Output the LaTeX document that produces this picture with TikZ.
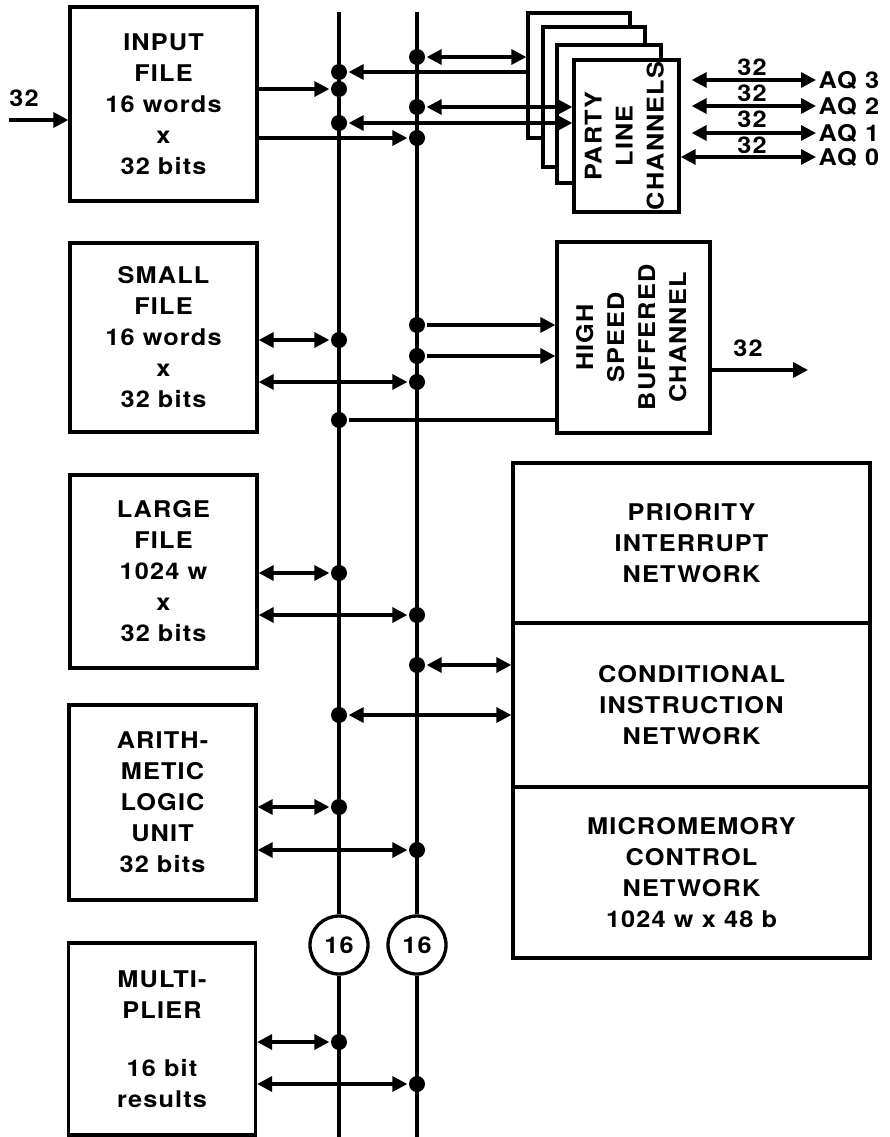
\documentclass[tikz,border=0pt]{standalone}
\usepackage{fontspec}
\setmainfont{TeX Gyre Heros}[FakeStretch=1.1, LetterSpace=5]
\usetikzlibrary{arrows.meta,calc}
\tikzset{
  lbl/.style={font=\bfseries\fontsize{23}{31}\selectfont, inner sep=1pt},
  box/.style={draw, line width=3.3pt, fill=white, align=center, inner sep=0pt,
              font=\bfseries\fontsize{23}{31}\selectfont},
  dot/.style={circle, fill=black, inner sep=0pt, minimum size=16pt},
  ring/.style={circle, draw, fill=white, line width=3.3pt, inner sep=0pt, minimum size=58pt,
               font=\bfseries\fontsize{23}{31}\selectfont},
  uni/.style={-{Triangle[length=15pt,width=15pt]}},
  bi/.style={{Triangle[length=15pt,width=15pt]}-{Triangle[length=15pt,width=15pt]}},
}
\newcommand{\vstack}[1]{\rotatebox{90}{\begin{tabular}{@{}c@{}}#1\end{tabular}}}
\begin{document}
\begin{tikzpicture}[x=1pt,y=-1pt,line width=3.3pt]
\useasboundingbox (0,0) rectangle (890,1137);

% buses and circles
\coordinate (atop) at (339,12);
\coordinate (abot) at (339,1137);
\coordinate (btop) at (417,12);
\coordinate (bbot) at (417,1137);
\node[ring] (c1) at (339,945) {16};
\node[ring] (c2) at (417,945) {16};
\draw (atop) -- (c1);
\draw (c1) -- (abot);
\draw (btop) -- (c2);
\draw (c2) -- (bbot);

% left boxes
\node[box, minimum width=187pt, minimum height=194pt] (inp) at (163.5,104)
  {INPUT\\FILE\\16 words\\x\\32 bits};
\node[box, minimum width=187pt, minimum height=189pt] (small) at (163.5,337.5)
  {SMALL\\FILE\\16 words\\x\\32 bits};
\node[box, minimum width=187pt, minimum height=193pt] (large) at (163.5,571.5)
  {LARGE\\FILE\\1024 w\\x\\32 bits};
\node[box, minimum width=187pt, minimum height=195pt] (alu) at (162.5,802.5)
  {ARITH-\\METIC\\LOGIC\\UNIT\\32 bits};
\node[box, minimum width=187pt, minimum height=192pt] (mult) at (162,1039)
  {MULTI-\\PLIER\\[27pt]16 bit\\results};

% party line channel stack
\node[box, minimum width=102pt, minimum height=125pt] (pl1) at (579,75.5) {};
\node[box, minimum width=102pt, minimum height=140pt] (pl2) at (594,97) {};
\node[box, minimum width=104pt, minimum height=138pt] (pl3) at (609,114) {};
\node[box, minimum width=105pt, minimum height=152pt] (pl4) at (626.5,136)
  {\vstack{PARTY\\LINE\\CHANNELS}};

% high speed buffered channel
\node[box, minimum width=153pt, minimum height=191pt] (hs) at (633.5,337.5)
  {\vstack{HIGH\\SPEED\\BUFFERED\\CHANNEL}};

% network boxes
\node[box, minimum width=357pt, minimum height=160pt] (prio) at (691.5,543)
  {PRIORITY\\INTERRUPT\\NETWORK};
\node[box, minimum width=357pt, minimum height=164pt] (cond) at (691.5,705)
  {CONDITIONAL\\INSTRUCTION\\NETWORK};
\node[box, minimum width=357pt, minimum height=171pt] (micro) at (691.5,872.5)
  {MICROMEMORY\\CONTROL\\NETWORK\\1024 w x 48 b};

% dots on bus A
\node[dot] (a1) at (339,72) {};
\node[dot] (a2) at (339,89) {};
\node[dot] (a3) at (339,123) {};
\node[dot] (a4) at (339,340) {};
\node[dot] (a5) at (339,420) {};
\node[dot] (a6) at (339,573) {};
\node[dot] (a7) at (339,715) {};
\node[dot] (a8) at (339,807) {};
\node[dot] (a9) at (339,1042) {};
% dots on bus B
\node[dot] (b1) at (417,57) {};
\node[dot] (b2) at (417,107) {};
\node[dot] (b3) at (417,138) {};
\node[dot] (b4) at (417,325) {};
\node[dot] (b5) at (417,356) {};
\node[dot] (b6) at (417,382) {};
\node[dot] (b7) at (417,615) {};
\node[dot] (b8) at (417,665) {};
\node[dot] (b9) at (417,850) {};
\node[dot] (b10) at (417,1084) {};

% input
\coordinate (inpin) at (9,120);
\node[lbl] (in32) at (24,98) {32};
\draw[uni] (inpin) -- (inpin -| inp.west);
\draw[uni] (inp.east |- a2) -- (a2);
\draw[uni] (inp.east |- b3) -- (b3);

% party line connections
\draw[uni] (a1 -| pl1.west) -- (a1);
\draw[bi] (b1) -- (b1 -| pl1.west);
\draw[bi] (b2) -- (b2 -| pl4.west);
\draw[bi] (a3) -- (a3 -| pl4.west);

% AQ outputs
\node[lbl, anchor=west] (aq3) at (816,80) {AQ 3};
\node[lbl, anchor=west] (aq2) at (816,106) {AQ 2};
\node[lbl, anchor=west] (aq1) at (816,133) {AQ 1};
\node[lbl, anchor=west] (aq0) at (816,157) {AQ 0};
\draw[bi] ([xshift=11pt]pl4.east |- aq3) -- (aq3.west);
\draw[bi] ([xshift=11pt]pl4.east |- aq2) -- (aq2.west);
\draw[bi] ([xshift=11pt]pl4.east |- aq1) -- (aq1.west);
\draw[bi] (pl4.east |- aq0) -- (aq0.west);
\node[lbl] (w3) at (752,67) {32};
\node[lbl] (w2) at (752,93) {32};
\node[lbl] (w1) at (752,119) {32};
\node[lbl] (w0) at (752,145) {32};

% small file
\draw[bi] (small.east |- a4) -- (a4);
\draw[bi] (small.east |- b6) -- (b6);

% high speed channel
\draw[uni] (b4) -- (b4 -| hs.west);
\draw[uni] (b5) -- (b5 -| hs.west);
\draw (a5) -- (a5 -| hs.west);
\coordinate (hsout) at (808,370);
\draw[uni] (hs.east |- hsout) -- (hsout);
\node[lbl] (hs32) at (748,348) {32};

% large file
\draw[bi] (large.east |- a6) -- (a6);
\draw[bi] (large.east |- b7) -- (b7);

% conditional network
\draw[bi] (b8) -- (b8 -| cond.west);
\draw[bi] (a7) -- (a7 -| cond.west);

% ALU
\draw[bi] (alu.east |- a8) -- (a8);
\draw[bi] (alu.east |- b9) -- (b9);

% multiplier
\draw[bi] (mult.east |- a9) -- (a9);
\draw[bi] (mult.east |- b10) -- (b10);
\end{tikzpicture}
\end{document}
